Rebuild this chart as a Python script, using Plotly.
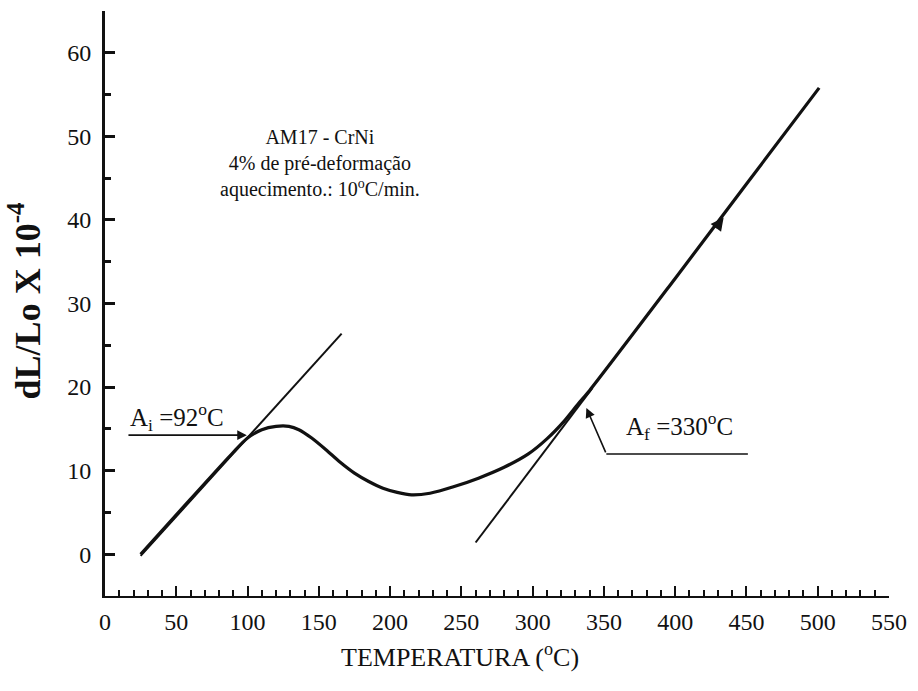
import plotly.graph_objects as go

# Dilatometric curve, AM17 - CrNi, heating at 10 °C/min
temp = [25, 60, 90, 100, 110, 120, 129, 136, 145, 155, 165, 175, 185, 195,
        205, 215, 228, 245, 262, 280, 297, 310, 322, 332, 340, 400, 450, 501]
dl = [0.0, 6.6, 12.2, 13.9, 14.9, 15.3, 15.3, 14.9, 13.9, 12.5, 11.0, 9.7,
      8.7, 7.9, 7.4, 7.1, 7.3, 8.1, 9.1, 10.4, 12.0, 13.8, 15.9, 18.0, 19.6,
      33.0, 44.3, 55.8]

# Tangent lines used to locate Ai and Af
tan1_x = [25, 166]
tan1_y = [-0.2, 26.4]
tan2_x = [260, 342]
tan2_y = [1.4, 19.9]

# Leader for the Af label (horizontal part + start of the oblique part)
af_lead_x = [451, 351.7]
af_lead_y = [12.0, 12.0]
af_tip = (337.7, 17.5)

# Ai pointer
ai_tail = (15.4, 14.25)
ai_tip = (99.5, 14.25)

# Heating direction marker on the upper branch
dir_tip = (434.0, 40.3)

x_ticks = list(range(0, 551, 50))
y_ticks = list(range(0, 61, 10))

sample_lines = ["AM17 - CrNi", "4% de pré-deformação",
                "aquecimento.: 10<sup>o</sup>C/min."]

SERIF = "Liberation Serif, Times New Roman, serif"
INK = "#111111"

fig = go.Figure()

fig.add_trace(go.Scatter(x=tan1_x, y=tan1_y, mode="lines",
                         line=dict(color=INK, width=2), hoverinfo="skip"))
fig.add_trace(go.Scatter(x=tan2_x, y=tan2_y, mode="lines",
                         line=dict(color=INK, width=2), hoverinfo="skip"))
fig.add_trace(go.Scatter(x=temp, y=dl, mode="lines",
                         line=dict(color=INK, width=3.2, shape="spline", smoothing=0.7),
                         hoverinfo="skip"))
fig.add_trace(go.Scatter(x=af_lead_x, y=af_lead_y, mode="lines",
                         line=dict(color=INK, width=1.6), hoverinfo="skip"))

annotations = [
    # Ai arrow and label
    dict(x=ai_tip[0], y=ai_tip[1], ax=ai_tail[0], ay=ai_tail[1],
         xref="x", yref="y", axref="x", ayref="y", text="",
         showarrow=True, arrowhead=2, arrowsize=1.2, arrowwidth=1.6, arrowcolor=INK),
    dict(x=16, y=16.4, xref="x", yref="y", xanchor="left", yanchor="middle",
         text="A<sub>i</sub> =92<sup>o</sup>C", showarrow=False,
         font=dict(family=SERIF, size=25, color=INK)),
    # Af arrow and label
    dict(x=af_tip[0], y=af_tip[1], ax=af_lead_x[1], ay=af_lead_y[1],
         xref="x", yref="y", axref="x", ayref="y", text="",
         showarrow=True, arrowhead=2, arrowsize=1.2, arrowwidth=1.6, arrowcolor=INK),
    dict(x=402.7, y=15.4, xref="x", yref="y", xanchor="center", yanchor="middle",
         text="A<sub>f</sub> =330<sup>o</sup>C", showarrow=False,
         font=dict(family=SERIF, size=25, color=INK)),
    # heating direction arrowhead
    dict(x=dir_tip[0], y=dir_tip[1], ax=-9, ay=12, xref="x", yref="y", text="",
         showarrow=True, arrowhead=2, arrowsize=1.3, arrowwidth=2, arrowcolor=INK),
    # sample description
    dict(x=150.8, y=46.8, xref="x", yref="y", text="<br>".join(sample_lines),
         showarrow=False, align="center", xanchor="center", yanchor="middle",
         font=dict(family=SERIF, size=20, color=INK)),
    # axis titles
    dict(x=(462 - 105) / 788, y=-(655 - 596) / 585, xref="paper", yref="paper",
         text="TEMPERATURA (<sup>o</sup>C)", showarrow=False,
         xanchor="center", yanchor="middle",
         font=dict(family=SERIF, size=26, color=INK)),
    dict(x=-(105 - 24) / 788, y=(596 - 301) / 585, xref="paper", yref="paper",
         text="<b>dL/Lo X 10<sup>-4</sup></b>", showarrow=False, textangle=-90,
         xanchor="center", yanchor="middle",
         font=dict(family=SERIF, size=36, color=INK)),
]

fig.update_layout(
    width=918, height=691,
    margin=dict(l=105, r=25, t=11, b=95),
    paper_bgcolor="white", plot_bgcolor="white",
    showlegend=False,
    annotations=annotations,
    xaxis=dict(range=[0, 550], tickvals=x_ticks, ticks="inside", ticklen=10,
               tickwidth=2, tickcolor=INK, showline=True, linewidth=2, linecolor=INK,
               showgrid=False, zeroline=False, ticklabelstandoff=3,
               minor=dict(dtick=10, tick0=0, ticks="inside", ticklen=6,
                          tickwidth=2, tickcolor=INK, showgrid=False),
               tickfont=dict(family=SERIF, size=24, color=INK)),
    yaxis=dict(range=[-5, 65], tickvals=y_ticks, ticks="inside", ticklen=10,
               tickwidth=2.5, tickcolor=INK, showline=True, linewidth=3, linecolor=INK,
               showgrid=False, zeroline=False, ticklabelstandoff=6,
               minor=dict(dtick=5, tick0=0, ticks="inside", ticklen=6,
                          tickwidth=2.5, tickcolor=INK, showgrid=False),
               tickfont=dict(family=SERIF, size=24, color=INK)),
)

fig.write_html("out.html")
